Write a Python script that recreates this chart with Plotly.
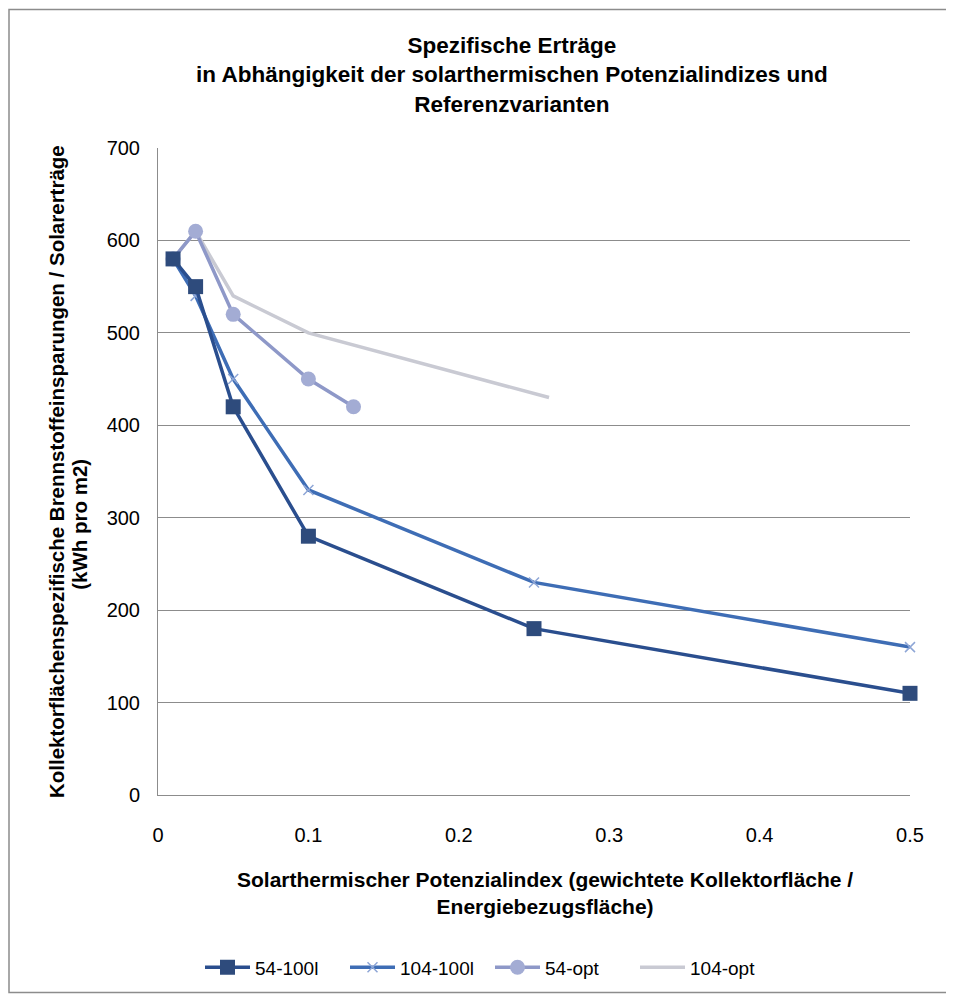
import plotly.graph_objects as go

x_54_100l = [0.01, 0.025, 0.05, 0.1, 0.25, 0.5]
y_54_100l = [580, 550, 420, 280, 180, 110]
x_104_100l = [0.01, 0.025, 0.05, 0.1, 0.25, 0.5]
y_104_100l = [580, 540, 450, 330, 230, 160]
x_54_opt = [0.01, 0.025, 0.05, 0.1, 0.13]
y_54_opt = [580, 610, 520, 450, 420]
x_104_opt = [0.01, 0.025, 0.05, 0.1, 0.26]
y_104_opt = [580, 610, 540, 500, 430]

x_ticks = [0, 0.1, 0.2, 0.3, 0.4, 0.5]
x_tick_labels = ["0", "0.1", "0.2", "0.3", "0.4", "0.5"]
y_ticks = [0, 100, 200, 300, 400, 500, 600, 700]

FONT = "Liberation Sans, Arial, sans-serif"

# page body has an 8px margin; work in reference pixel coords, shifted by 8
OFF = 8
W, H = 954 - OFF, 999 - OFF
PL, PR, PT, PB = 158, 910, 148, 797  # plot area in reference pixels

fig = go.Figure()
fig.add_trace(go.Scatter(x=x_104_opt, y=y_104_opt, name="104-opt", mode="lines",
                         line=dict(color="#C9CAD3", width=3.5), cliponaxis=False))
fig.add_trace(go.Scatter(x=x_54_opt, y=y_54_opt, name="54-opt", mode="lines+markers",
                         line=dict(color="#8E98C8", width=3.5), cliponaxis=False,
                         marker=dict(symbol="circle", size=15, color="#A3ACD4")))
fig.add_trace(go.Scatter(x=x_104_100l, y=y_104_100l, name="104-100l", mode="lines+markers",
                         line=dict(color="#3E6DB5", width=3.5), cliponaxis=False,
                         marker=dict(symbol="x-thin", size=10, line=dict(color="#8EA6D6", width=1.5))))
fig.add_trace(go.Scatter(x=x_54_100l, y=y_54_100l, name="54-100l", mode="lines+markers",
                         line=dict(color="#2A4E8E", width=3.5), cliponaxis=False,
                         marker=dict(symbol="square", size=15, color="#2E4B7C")))


def px_x(px):
    return (px - PL) / (PR - PL)


def px_y(py):
    return (PB - py) / (PB - PT)


fig.update_layout(
    width=W, height=H,
    paper_bgcolor="white", plot_bgcolor="white",
    margin=dict(l=PL - OFF, r=W - (PR - OFF), t=PT - OFF, b=H - (PB - OFF)),
    font=dict(family=FONT, color="black"),
    showlegend=True,
    legend=dict(orientation="h", x=px_x(200), xanchor="left", y=px_y(970), yanchor="middle",
                font=dict(size=19, family=FONT), traceorder="reversed",
                entrywidth=85, entrywidthmode="pixels", itemwidth=45),
    xaxis=dict(range=[0, 0.5], tickvals=x_ticks, ticktext=x_tick_labels,
               showgrid=False, zeroline=False, showline=True, linecolor="#8C8C8C",
               linewidth=1, ticks="", tickfont=dict(size=20), ticklabelstandoff=22),
    yaxis=dict(range=[0, 700], tickvals=y_ticks,
               showgrid=True, gridcolor="#8C8C8C", gridwidth=1, zeroline=False,
               showline=True, linecolor="#8C8C8C", linewidth=1, ticks="",
               tickfont=dict(size=20), ticklabelstandoff=13),
)

fig.add_annotation(text="<b>Spezifische Erträge<br>in Abhängigkeit der solarthermischen Potenzialindizes und<br>Referenzvarianten</b>",
                   x=px_x(512), y=px_y(75), xref="paper", yref="paper",
                   showarrow=False, font=dict(size=22.5, family=FONT), align="center",
                   xanchor="center", yanchor="middle")
fig.add_annotation(text="<b>Solarthermischer Potenzialindex (gewichtete Kollektorfläche /<br>Energiebezugsfläche)</b>",
                   x=px_x(545), y=px_y(895), xref="paper", yref="paper",
                   showarrow=False, font=dict(size=21, family=FONT), align="center",
                   xanchor="center", yanchor="middle")
fig.add_annotation(text="<b>Kollektorflächenspezifische Brennstoffeinsparungen / Solarerträge</b>",
                   x=px_x(57), y=px_y(473), xref="paper", yref="paper",
                   showarrow=False, font=dict(size=20.5, family=FONT), align="center",
                   textangle=-90, xanchor="center", yanchor="middle")
fig.add_annotation(text="<b>(kWh pro m2)</b>",
                   x=px_x(80), y=px_y(526), xref="paper", yref="paper",
                   showarrow=False, font=dict(size=20.5, family=FONT), align="center",
                   textangle=-90, xanchor="center", yanchor="middle")

fig.add_shape(type="rect", xref="paper", yref="paper",
              x0=px_x(OFF + 1), x1=px_x(948), y0=px_y(995), y1=px_y(OFF + 1),
              line=dict(color="#8C8C8C", width=1.5), fillcolor="rgba(0,0,0,0)", layer="below")

fig.write_html("out.html")
